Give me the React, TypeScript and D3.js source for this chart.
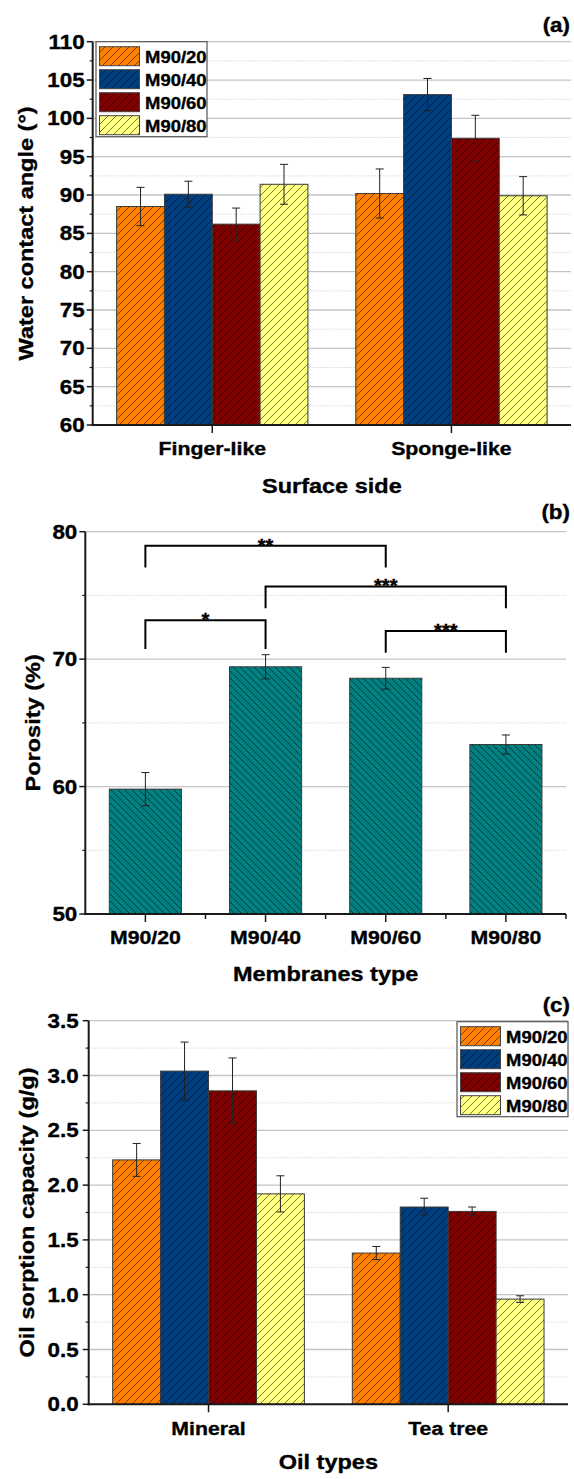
import * as d3 from 'd3';

const membranes = ['M90/20', 'M90/40', 'M90/60', 'M90/80'];
const seriesColors = ['#FF8000', '#003F7F', '#800000', '#FFFF80'];
const porosityColor = '#008080';

// (a) water contact angle, one row per membrane, one value per surface side
const surfaceSides = ['Finger-like', 'Sponge-like'];
const angleMean = [[88.5, 90.2], [90.1, 103.1], [86.2, 97.4], [91.4, 89.9]];
const angleErr = [[2.5, 3.2], [1.7, 2.1], [2.1, 3.0], [2.6, 2.5]];
const angleTicks = [60, 65, 70, 75, 80, 85, 90, 95, 100, 105, 110];

// (b) porosity
const porosityMean = [59.8, 69.4, 68.5, 63.3];
const porosityErr = [1.3, 0.95, 0.85, 0.75];
const porosityTicks = [50, 60, 70, 80];
const brackets = [
  { from: 0, to: 2, level: 78.9, leg: 77.2, label: '**' },
  { from: 1, to: 3, level: 75.7, leg: 74.0, label: '***' },
  { from: 0, to: 1, level: 73.05, leg: 70.8, label: '*' },
  { from: 2, to: 3, level: 72.2, leg: 70.5, label: '***' },
];

// (c) oil sorption
const oilTypes = ['Mineral', 'Tea tree'];
const sorptionMean = [[2.23, 1.38], [3.04, 1.80], [2.86, 1.76], [1.92, 0.96]];
const sorptionErr = [[0.15, 0.06], [0.265, 0.08], [0.3, 0.04], [0.165, 0.03]];
const sorptionTicks = [0, 0.5, 1, 1.5, 2, 2.5, 3, 3.5];

const FONT = '"Liberation Sans", Arial, sans-serif';
const SX = 1.12;
const GRID = '#c4c4c4';
const AXIS = '#1a1a1a';

function Txt({ x, y, size, anchor = 'middle', rotate = 0, children }: any) {
  const tr = `translate(${x},${y})` + (rotate ? ` rotate(${rotate})` : '') + ` scale(${SX},1)`;
  return (
    <text transform={tr} fontSize={size} fontWeight="bold" textAnchor={anchor} fontFamily={FONT}
      fill="#000" stroke="#000" strokeWidth={0.35}>
      {children}
    </text>
  );
}

function YAxis({ y, ticks, left, right, fmt, gap }: any) {
  const minor = d3.pairs(ticks, (a: number, b: number) => (a + b) / 2);
  const top = y(ticks[ticks.length - 1]);
  const bottom = y(ticks[0]);
  return (
    <g>
      {minor.map((t: number) => (
        <line key={'m' + t} x1={left} x2={right} y1={y(t)} y2={y(t)} stroke={GRID} strokeDasharray="1,2" />
      ))}
      {ticks.slice(1).map((t: number) => (
        <line key={'g' + t} x1={left} x2={right} y1={y(t)} y2={y(t)} stroke={GRID} strokeWidth={1.3} />
      ))}
      {minor.map((t: number) => (
        <line key={'mt' + t} x1={left - 3} x2={left} y1={y(t)} y2={y(t)} stroke={AXIS} strokeWidth={1.2} />
      ))}
      {ticks.map((t: number) => (
        <g key={'t' + t}>
          <line x1={left - 6} x2={left} y1={y(t)} y2={y(t)} stroke={AXIS} strokeWidth={1.5} />
          <Txt x={left - gap} y={y(t) + 7} size={20} anchor="end">{fmt(t)}</Txt>
        </g>
      ))}
      <line x1={left} x2={left} y1={top} y2={bottom + 1} stroke={AXIS} strokeWidth={2} />
    </g>
  );
}

function ErrorBar({ cx, y, mean, err }: any) {
  return (
    <g stroke="#222" strokeWidth={1}>
      <line x1={cx} x2={cx} y1={y(mean + err)} y2={y(mean - err)} />
      <line x1={cx - 4} x2={cx + 4} y1={y(mean + err)} y2={y(mean + err)} />
      <line x1={cx - 4} x2={cx + 4} y1={y(mean - err)} y2={y(mean - err)} />
    </g>
  );
}

function Legend({ x, y }: any) {
  return (
    <g>
      <rect x={x} y={y} width={111} height={95} fill="#fff" stroke="#555" strokeWidth={1.2} />
      {membranes.map((m, i) => (
        <g key={m}>
          <rect x={x + 3.5} y={y + 5 + i * 23} width={40} height={19} fill={`url(#hatch${i})`} stroke="#444" strokeWidth={1} />
          <Txt x={x + 49} y={y + 5 + i * 23 + 16} size={16.5} anchor="start">{m}</Txt>
        </g>
      ))}
    </g>
  );
}

function GroupedPanel({ categories, means, errs, ticks, fmt, left, right, top, bottom, gap, catY, title, titleY, yTitle, yTitleX, tag, tagY, legendX, legendY }: any) {
  const x0 = d3.scaleBand().domain(categories).range([left, right]).paddingInner(0.2).paddingOuter(0.1);
  const x1 = d3.scaleBand().domain(membranes).range([0, x0.bandwidth()]);
  const y = d3.scaleLinear().domain([ticks[0], ticks[ticks.length - 1]]).range([bottom, top]);
  const mid = (left + right) / 2;
  return (
    <g>
      <YAxis y={y} ticks={ticks} left={left} right={right} fmt={fmt} gap={gap} />
      {membranes.map((m, s) =>
        categories.map((c: string, k: number) => (
          <rect key={m + c} x={x0(c)! + x1(m)!} y={y(means[s][k])} width={x1.bandwidth()}
            height={bottom - y(means[s][k])} fill={`url(#hatch${s})`} stroke="#3a3a3a" strokeWidth={1} />
        ))
      )}
      {membranes.map((m, s) =>
        categories.map((c: string, k: number) => (
          <ErrorBar key={'e' + m + c} cx={x0(c)! + x1(m)! + x1.bandwidth() / 2} y={y} mean={means[s][k]} err={errs[s][k]} />
        ))
      )}
      <line x1={left - 1} x2={right} y1={bottom} y2={bottom} stroke={AXIS} strokeWidth={2} />
      {categories.map((c: string) => (
        <g key={'c' + c}>
          <line x1={x0(c)! + x0.bandwidth() / 2} x2={x0(c)! + x0.bandwidth() / 2} y1={bottom} y2={bottom + 8} stroke={AXIS} strokeWidth={1.5} />
          <Txt x={x0(c)! + x0.bandwidth() / 2} y={catY} size={19}>{c}</Txt>
        </g>
      ))}
      <Txt x={mid} y={titleY} size={21}>{title}</Txt>
      <Txt x={yTitleX} y={(top + bottom) / 2} size={21} rotate={-90}>{yTitle}</Txt>
      <Txt x={570} y={tagY} size={20} anchor="end">{tag}</Txt>
      <Legend x={legendX} y={legendY} />
    </g>
  );
}

function PorosityPanel() {
  const left = 85.3, right = 566, top = 531.7, bottom = 914;
  const x = d3.scaleBand().domain(membranes).range([left, right]).paddingInner(0.4).paddingOuter(0.2);
  const y = d3.scaleLinear().domain([porosityTicks[0], porosityTicks[porosityTicks.length - 1]]).range([bottom, top]);
  const cx = (i: number) => x(membranes[i])! + x.bandwidth() / 2;
  const edges = d3.range(membranes.length + 1).map((i) => left + i * x.step());
  return (
    <g>
      <YAxis y={y} ticks={porosityTicks} left={left} right={right} fmt={d3.format('d')} gap={8} />
      {membranes.map((m, i) => (
        <rect key={m} x={x(m)} y={y(porosityMean[i])} width={x.bandwidth()} height={bottom - y(porosityMean[i])}
          fill="url(#hatchB)" stroke="#3a3a3a" strokeWidth={1} />
      ))}
      {membranes.map((m, i) => (
        <ErrorBar key={'e' + m} cx={cx(i)} y={y} mean={porosityMean[i]} err={porosityErr[i]} />
      ))}
      {brackets.map((b, i) => (
        <g key={'b' + i}>
          <path d={`M${cx(b.from)},${y(b.leg)}V${y(b.level)}H${cx(b.to)}V${y(b.leg)}`} fill="none" stroke="#000" strokeWidth={2} />
          <Txt x={(cx(b.from) + cx(b.to)) / 2} y={y(b.level) + 6} size={18}>{b.label}</Txt>
        </g>
      ))}
      <line x1={left - 1} x2={right} y1={bottom} y2={bottom} stroke={AXIS} strokeWidth={2} />
      {edges.slice(1).map((e) => (
        <line key={'edge' + e} x1={e} x2={e} y1={bottom} y2={bottom + 5} stroke={AXIS} strokeWidth={1.5} />
      ))}
      {membranes.map((m, i) => (
        <g key={'l' + m}>
          <line x1={cx(i)} x2={cx(i)} y1={bottom} y2={bottom + 8} stroke={AXIS} strokeWidth={1.5} />
          <Txt x={cx(i)} y={944} size={19}>{m}</Txt>
        </g>
      ))}
      <Txt x={(left + right) / 2} y={981} size={21}>Membranes type</Txt>
      <Txt x={40} y={(top + bottom) / 2} size={21} rotate={-90}>Porosity (%)</Txt>
      <Txt x={570} y={519} size={20} anchor="end">(b)</Txt>
    </g>
  );
}

export default function App() {
  return (
    <svg width={574} height={1479} style={{ position: 'absolute', left: 0, top: 0 }}>
      <defs>
        {seriesColors.map((c, i) => (
          <pattern key={c} id={`hatch${i}`} patternUnits="userSpaceOnUse" width={8} height={8}>
            <rect width={8} height={8} fill={c} />
            <path d="M-1,1 l2,-2 M0,8 l8,-8 M7,9 l2,-2" stroke="#000" strokeWidth={0.7} strokeOpacity={0.75} />
          </pattern>
        ))}
        <pattern id="hatchB" patternUnits="userSpaceOnUse" width={7} height={7}>
          <rect width={7} height={7} fill={porosityColor} />
          <path d="M-1,6 l2,2 M0,0 l7,7 M6,-1 l2,2" stroke="#000" strokeWidth={0.7} strokeOpacity={0.75} />
        </pattern>
      </defs>
      <rect width={574} height={1479} fill="#fff" />
      <GroupedPanel categories={surfaceSides} means={angleMean} errs={angleErr} ticks={angleTicks}
        fmt={d3.format('d')} left={92.7} right={571} top={41.7} bottom={425} gap={8}
        catY={455} title="Surface side" titleY={493} yTitle="Water contact angle (°)" yTitleX={33}
        tag="(a)" tagY={32} legendX={96} legendY={41.7} />
      <PorosityPanel />
      <GroupedPanel categories={oilTypes} means={sorptionMean} errs={sorptionErr} ticks={sorptionTicks}
        fmt={d3.format('.1f')} left={88.7} right={568} top={1020.7} bottom={1404.3} gap={10}
        catY={1435} title="Oil types" titleY={1469} yTitle="Oil sorption capacity (g/g)" yTitleX={34}
        tag="(c)" tagY={1012} legendX={457} legendY={1021.7} />
    </svg>
  );
}
